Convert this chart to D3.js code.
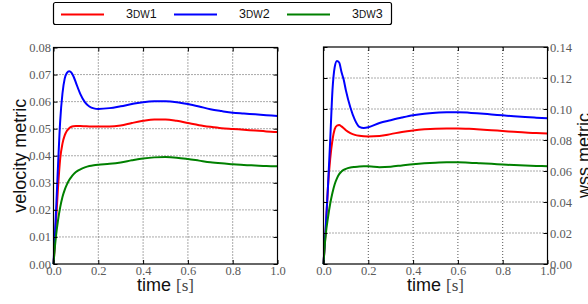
<!DOCTYPE html>
<html>
<head>
<meta charset="utf-8">
<script src="https://cdn.jsdelivr.net/npm/d3@7"></script>
<style>
  body { margin: 0; background: #fff; }
  svg { display: block; }
  .grid line { stroke: #555; stroke-dasharray: 1,2; }
  .label { font-family: "Liberation Sans", sans-serif; font-size: 18px; fill: #111; }
  .legend text { font-family: "Liberation Sans", sans-serif; font-size: 12.5px; fill: #111; }
</style>
</head>
<body>
<div id="chart"></div>
<script>
/* sample times shared by every series */
var times = [0, 0.005, 0.01, 0.02, 0.03, 0.04, 0.05, 0.06, 0.07, 0.08, 0.09, 0.1,
    0.12, 0.14, 0.16, 0.18, 0.2, 0.25, 0.3, 0.35, 0.4, 0.45, 0.5, 0.55, 0.6,
    0.65, 0.7, 0.75, 0.8, 0.85, 0.9, 0.95, 1.0];

/* legend names, written as digit + small-caps letters + digit */
var seriesNames = [["3", "DW", "1"], ["3", "DW", "2"], ["3", "DW", "3"]];
var seriesColors = ["#ff0000", "#0000ff", "#008000"];

/* velocity metric, left panel */
var vel3dw1 = [0, 0.006, 0.014, 0.028, 0.039, 0.0445, 0.0475, 0.0492, 0.0502, 0.0507, 0.0509, 0.0510,
    0.0510, 0.0509, 0.0508, 0.0508, 0.0508, 0.0508, 0.0512, 0.0521, 0.0529, 0.0534, 0.0534, 0.0529, 0.0521,
    0.0513, 0.0507, 0.0502, 0.0499, 0.0496, 0.0493, 0.0490, 0.0488];
var vel3dw2 = [0, 0.008, 0.017, 0.036, 0.053, 0.063, 0.0685, 0.0706, 0.0712, 0.0707, 0.0692, 0.0670,
    0.0628, 0.0598, 0.0582, 0.0575, 0.0573, 0.0576, 0.0583, 0.0591, 0.0598, 0.0601, 0.0601, 0.0598, 0.0591,
    0.0582, 0.0572, 0.0565, 0.0559, 0.0556, 0.0553, 0.0550, 0.0547];
var vel3dw3 = [0, 0.0052, 0.0095, 0.016, 0.021, 0.0248, 0.0274, 0.0294, 0.0310, 0.0322, 0.0332, 0.0340,
    0.0350, 0.0357, 0.0362, 0.0365, 0.0367, 0.0370, 0.0375, 0.0383, 0.0390, 0.0394, 0.0395, 0.0393, 0.0388,
    0.0382, 0.0376, 0.0372, 0.0369, 0.0366, 0.0364, 0.0362, 0.0361];

/* wss metric, right panel */
var wss3dw1 = [0, 0.011, 0.022, 0.050, 0.068, 0.080, 0.087, 0.0893, 0.0896, 0.0888, 0.0876, 0.0863,
    0.0845, 0.0833, 0.0827, 0.0824, 0.0823, 0.0826, 0.0838, 0.0852, 0.0862, 0.0869, 0.0873, 0.0874, 0.0874,
    0.0872, 0.0868, 0.0863, 0.0858, 0.0853, 0.0848, 0.0845, 0.0842];
var wss3dw2 = [0, 0.012, 0.024, 0.050, 0.080, 0.112, 0.127, 0.131, 0.130, 0.124, 0.119, 0.112,
    0.101, 0.093, 0.0885, 0.0878, 0.0882, 0.0910, 0.0928, 0.0945, 0.0960, 0.0970, 0.0976, 0.0979, 0.0979,
    0.0976, 0.0971, 0.0965, 0.0959, 0.0953, 0.0948, 0.0944, 0.0940];
var wss3dw3 = [0, 0.011, 0.019, 0.030, 0.039, 0.046, 0.0515, 0.0553, 0.0580, 0.0596, 0.0607, 0.0614,
    0.0622, 0.0626, 0.0629, 0.0630, 0.0630, 0.0625, 0.0628, 0.0636, 0.0644, 0.0650, 0.0654, 0.0656, 0.0656,
    0.0654, 0.0650, 0.0646, 0.0642, 0.0638, 0.0635, 0.0633, 0.0631];

/* tick values */
var timeTicks = [0, 0.2, 0.4, 0.6, 0.8, 1.0];
var velTicks = [0, 0.01, 0.02, 0.03, 0.04, 0.05, 0.06, 0.07, 0.08];
var wssTicks = [0, 0.02, 0.04, 0.06, 0.08, 0.10, 0.12, 0.14];

var width = 588, height = 304;

var svg = d3.select("#chart").append("svg")
    .attr("width", width)
    .attr("height", height);

function translate(x, y) {
    return "translate(" + x + "," + y + ")";
}

function style_axis(sel) {
    /* serif grey tick labels, black tick marks, no domain line */
    sel.select(".domain").remove();
    sel.selectAll(".tick line").attr("stroke", "#000");
    sel.selectAll(".tick text")
        .attr("font-family", "Liberation Serif, serif")
        .attr("font-size", "12.5px")
        .attr("fill", "#5a5a5a");
}

function draw_panel(box, yMax, yTicks, series, yLabel, labelsRight) {
    var x = d3.scaleLinear().domain([0, 1]).range([box.left, box.right]);
    var y = d3.scaleLinear().domain([0, yMax]).range([box.bottom, box.top]);
    var g = svg.append("g");

    /* dotted grid */
    var grid = g.append("g").attr("class", "grid");
    grid.selectAll("line.v")
        .data(timeTicks.slice(1, -1))
      .enter().append("line")
        .attr("x1", function(d) { return x(d); }).attr("x2", function(d) { return x(d); })
        .attr("y1", box.top).attr("y2", box.bottom);
    grid.selectAll("line.h")
        .data(yTicks.slice(1, -1))
      .enter().append("line")
        .attr("x1", box.left).attr("x2", box.right)
        .attr("y1", function(d) { return y(d); }).attr("y2", function(d) { return y(d); });

    /* curves */
    var line = d3.line()
        .x(function(d) { return x(d[0]); })
        .y(function(d) { return y(d[1]); })
        .curve(d3.curveMonotoneX);
    series.forEach(function(vals, i) {
        g.append("path")
            .datum(times.map(function(t, j) { return [t, vals[j]]; }))
            .attr("fill", "none")
            .attr("stroke", seriesColors[i])
            .attr("stroke-width", 2)
            .attr("d", line);
    });

    /* axes, ticks pointing inwards (matplotlib style) */
    var xAxis = d3.axisBottom(x).tickValues(timeTicks).tickFormat(d3.format(".1f"))
        .tickSizeInner(-4).tickSizeOuter(0).tickPadding(2);
    var yAxis = (labelsRight ? d3.axisRight(y) : d3.axisLeft(y))
        .tickValues(yTicks).tickFormat(d3.format(".2f"))
        .tickSizeInner(-4).tickSizeOuter(0).tickPadding(2.5);

    g.append("g").attr("transform", translate(0, box.bottom)).call(xAxis).call(style_axis);
    g.append("g").attr("transform", translate(labelsRight ? box.right : box.left, 0)).call(yAxis)
        .call(style_axis);

    /* ticks on the opposite sides, no labels */
    g.append("g").attr("transform", translate(0, box.top))
        .call(d3.axisTop(x).tickValues(timeTicks).tickSizeInner(-4).tickSizeOuter(0).tickFormat(""))
        .call(style_axis);
    g.append("g").attr("transform", translate(labelsRight ? box.left : box.right, 0))
        .call((labelsRight ? d3.axisLeft(y) : d3.axisRight(y)).tickValues(yTicks)
            .tickSizeInner(-4).tickSizeOuter(0).tickFormat(""))
        .call(style_axis);

    /* frame */
    g.append("rect")
        .attr("x", box.left).attr("y", box.top)
        .attr("width", box.right - box.left).attr("height", box.bottom - box.top)
        .attr("fill", "none").attr("stroke", "#000").attr("stroke-width", 1.2);

    /* x label: sans "time" with serif "[s]" */
    var xl = g.append("text").attr("class", "label")
        .attr("x", (box.left + box.right) / 2).attr("y", 290.5)
        .attr("text-anchor", "middle");
    xl.append("tspan").text("time ");
    xl.append("tspan").attr("font-family", "Liberation Serif, serif").attr("fill", "#444")
        .attr("font-size", "17px").text("[s]");

    /* y label */
    g.append("text").attr("class", "label")
        .attr("transform", translate(labelsRight ? 590 : 26, (box.top + box.bottom) / 2) + " rotate(-90)")
        .attr("text-anchor", "middle")
        .text(yLabel);
}

draw_panel({left: 53.5, right: 277.5, top: 47.5, bottom: 264}, 0.08, velTicks,
    [vel3dw1, vel3dw2, vel3dw3], "velocity metric", false);
draw_panel({left: 323.5, right: 547.5, top: 47, bottom: 264}, 0.14, wssTicks,
    [wss3dw1, wss3dw2, wss3dw3], "wss metric", true);

/* legend above both panels */
var legend = svg.append("g").attr("class", "legend");
legend.append("rect")
    .attr("x", 53.5).attr("y", 2.5).attr("width", 338).attr("height", 22)
    .attr("rx", 2).attr("fill", "#fff").attr("stroke", "#000").attr("stroke-width", 1.2);

var entry = legend.selectAll("g.entry")
    .data(seriesNames)
  .enter().append("g")
    .attr("transform", function(d, i) { return translate(61 + i * 113, 0); });
entry.append("line")
    .attr("x1", 0).attr("x2", 43).attr("y1", 14.5).attr("y2", 14.5)
    .attr("stroke", function(d, i) { return seriesColors[i]; })
    .attr("stroke-width", 2);
var txt = entry.append("text")
    .attr("x", 65).attr("y", 18);
txt.append("tspan").text(function(d) { return d[0]; });
txt.append("tspan").attr("font-size", "10px").text(function(d) { return d[1]; });
txt.append("tspan").text(function(d) { return d[2]; });
</script>
</body>
</html>
